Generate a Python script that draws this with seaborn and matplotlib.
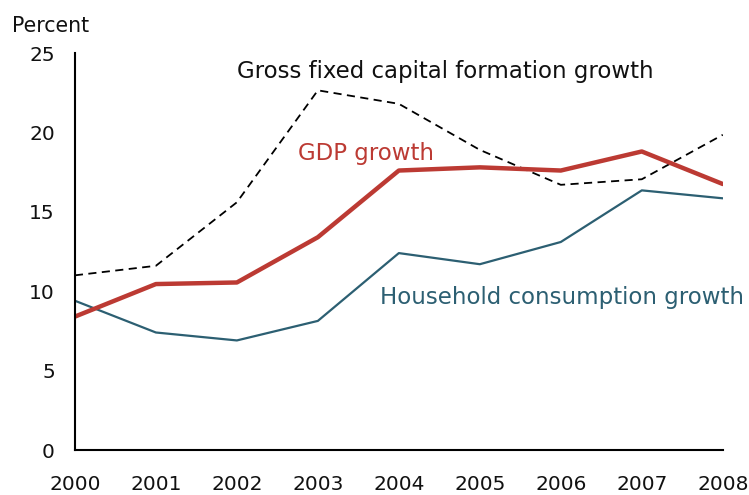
import matplotlib
matplotlib.use("Agg")
import matplotlib.pyplot as plt
import seaborn as sns
import pandas as pd

years = [2000, 2001, 2002, 2003, 2004, 2005, 2006, 2007, 2008]
gdp_growth = [8.4, 10.45, 10.55, 13.4, 17.6, 17.8, 17.6, 18.8, 16.75]
gfcf_growth = [11.0, 11.6, 15.6, 22.65, 21.8, 18.9, 16.7, 17.05, 19.85]
household_growth = [9.4, 7.4, 6.9, 8.13, 12.4, 11.7, 13.1, 16.35, 15.85]
y_ticks = [0, 5, 10, 15, 20, 25]

RED = "#BC3A33"
TEAL = "#2C5F72"

sns.set_style("white")
plt.rcParams['font.family'] = ['DejaVu Sans']

df = pd.DataFrame({"year": years, "gdp": gdp_growth, "gfcf": gfcf_growth, "hh": household_growth})

fig = plt.figure(figsize=(7.49, 4.95), dpi=100)
ax = fig.add_axes([0.100, 0.0909, 0.865, 0.802])

sns.lineplot(data=df, x="year", y="gfcf", ax=ax, color="black", linewidth=1.3,
             linestyle=(0, (4.5, 3)))
sns.lineplot(data=df, x="year", y="hh", ax=ax, color=TEAL, linewidth=1.6)
sns.lineplot(data=df, x="year", y="gdp", ax=ax, color=RED, linewidth=3.2)

ax.set_xlim(2000, 2008)
ax.set_ylim(0, 25)
ax.set_xticks(years)
ax.set_xticklabels([str(y) for y in years])
ax.set_yticks(y_ticks)
ax.set_xlabel("")
ax.set_ylabel("")
for s in ["top", "right"]:
    ax.spines[s].set_visible(False)
for s in ["left", "bottom"]:
    ax.spines[s].set_color("black")
    ax.spines[s].set_linewidth(1.5)
ax.tick_params(axis="both", direction="out", width=1.2, color="black",
               labelsize=14.5, labelcolor="#111111")
ax.tick_params(axis="x", length=4, pad=14)
ax.tick_params(axis="y", length=4.5, pad=10)

fig.text(0.016, 0.935, "Percent", fontsize=14.8, color="#111111", ha="left", va="baseline")

ax.text(2002.0, 23.4, "Gross fixed capital formation growth", fontsize=16.5,
        color="#111111", ha="left", va="baseline")
ax.text(2002.75, 18.24, "GDP growth", fontsize=16.5, color=RED, ha="left", va="baseline")
ax.text(2003.77, 9.18, "Household consumption growth", fontsize=16.5, color=TEAL,
        ha="left", va="baseline")

fig.savefig("out.png", dpi=100)
